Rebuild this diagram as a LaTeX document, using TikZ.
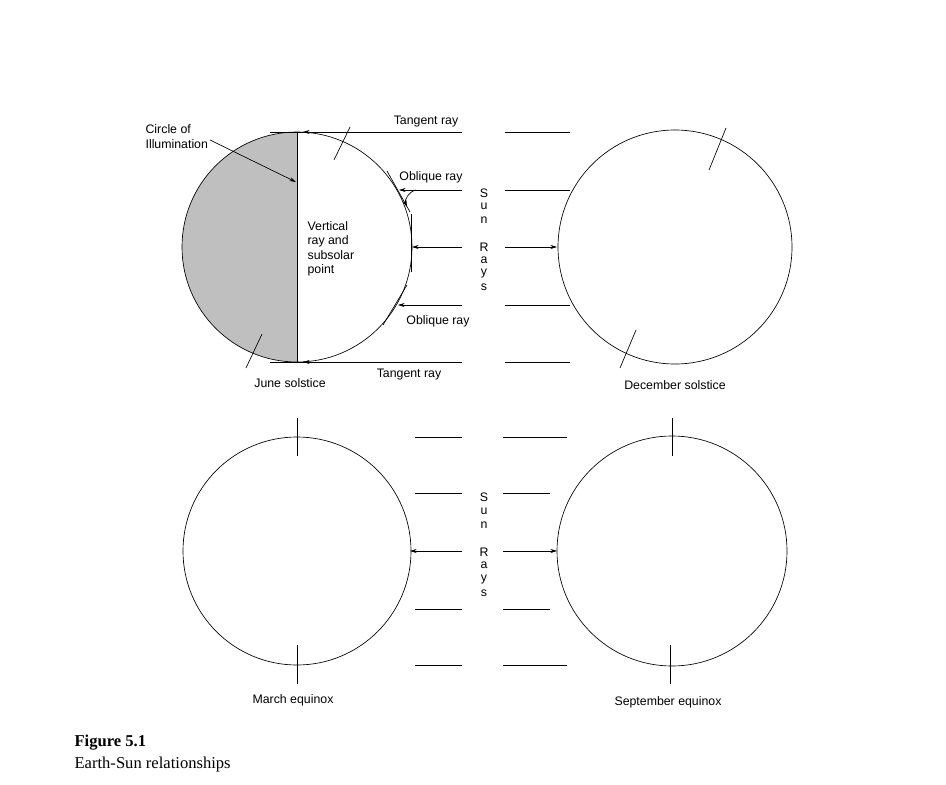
\documentclass[tikz,border=0pt]{standalone}
\usepackage{fontspec}
\setmainfont{Liberation Sans}
\newfontfamily\capfont{Liberation Serif}
\usetikzlibrary{arrows.meta}
\begin{document}
\begin{tikzpicture}[x=0.0265cm, y=-0.0265cm,
    every node/.style={inner sep=1pt, font=\fontsize{9.3}{10.8}\selectfont},
    ray/.style={line width=0.5pt},
    sunray/.style={line width=0.5pt, -{Stealth[length=5pt, width=3pt]}},
    earth/.style={line width=0.5pt},
    tick/.style={line width=0.5pt}]
  \useasboundingbox (0,0) rectangle (946,785);

  % Earth circles
  \coordinate (jun) at (297,247);
  \coordinate (dec) at (675,247);
  \coordinate (mar) at (297,551);
  \coordinate (sep) at (672,551);
  \fill[gray!50] (297,132) arc[start angle=-90, end angle=-270, radius=115] -- cycle;
  \draw[earth] (jun) circle[radius=115];
  \draw[earth] (dec) circle[radius=117];
  \draw[earth] (mar) circle[radius=114];
  \draw[earth] (sep) circle[radius=115];

  % June solstice
  \draw[tick] (297,132) -- (297,362);
  \draw[tick] (350,127) -- (334,160);
  \draw[tick] (262,334) -- (246,368);
  \coordinate (tr1) at (462,132);  \coordinate (ta1) at (303,132);
  \coordinate (or1) at (462,190);  \coordinate (oa1) at (399,190);
  \coordinate (vr1) at (462,247);  \coordinate (va1) at (412,247);
  \coordinate (or2) at (462,305);  \coordinate (oa2) at (398,305);
  \coordinate (tr2) at (462,362);  \coordinate (ta2) at (303,362);
  \draw[ray] (270,132) -- (tr1);
  \draw[ray] (270,362) -- (tr2);
  \foreach \s/\e in {tr1/ta1, or1/oa1, vr1/va1, or2/oa2, tr2/ta2}
    \draw[sunray] (\s) -- (\e);
  \draw[tick] (387,171) -- (410,212);
  \draw[tick] (411,214) -- (411,272);
  \draw[tick] (407,285) -- (383,325);
  \draw[sunray] (416,190) to[bend right=50] (407,207);
  \node[anchor=west] (circlab) at (144,138) {\begin{tabular}{@{}l@{}}Circle of\\Illumination\end{tabular}};
  \coordinate (circtip) at (296,182);
  \draw[sunray] (210,140) -- (circtip);
  \node[anchor=north west, align=left] (vert) at (306,220) {Vertical\\ray and\\subsolar\\point};
  \node (tang1) at (426,122) {Tangent ray};
  \node (obl1) at (431,177) {Oblique ray};
  \node (obl2) at (438,321) {Oblique ray};
  \node (tang2) at (409,375) {Tangent ray};
  \node (junlab) at (290,383) {June solstice};

  % Sun Rays labels
  \foreach \l [count=\i] in {S,u,n,,R,a,y,s} {
    \node (sr\i) at (484,180+13.4*\i) {\l};
    \node (sq\i) at (484,484+13.6*\i) {\l};
  }

  % December solstice
  \foreach \y in {132,190,305,362}
    \draw[ray] (505,\y) -- (570,\y);
  \coordinate (dr) at (505,247);  \coordinate (da) at (557,247);
  \draw[sunray] (dr) -- (da);
  \draw[tick] (726,128) -- (709,170);
  \draw[tick] (636,330) -- (620,368);
  \node (declab) at (675,385) {December solstice};

  % March equinox
  \foreach \y in {437,493,609,665}
    \draw[ray] (415,\y) -- (462,\y);
  \coordinate (mr) at (462,551);  \coordinate (ma) at (410,551);
  \draw[sunray] (mr) -- (ma);
  \draw[tick] (297,418) -- (297,456);
  \draw[tick] (297,645) -- (297,684);
  \node (marlab) at (293,700) {March equinox};

  % September equinox
  \foreach \y/\e in {437/567,493/550,609/550,665/567}
    \draw[ray] (503,\y) -- (\e,\y);
  \coordinate (pr) at (503,551);  \coordinate (pa) at (557,551);
  \draw[sunray] (pr) -- (pa);
  \draw[tick] (672,418) -- (672,456);
  \draw[tick] (670,645) -- (670,684);
  \node (seplab) at (668,702) {September equinox};

  % Caption
  \node[anchor=west, font=\capfont\fontsize{12.5}{14}\selectfont\bfseries] (fig) at (73,743) {Figure 5.1};
  \node[anchor=west, font=\capfont\fontsize{12.5}{14}\selectfont] (figtxt) at (73,765) {Earth-Sun relationships};
\end{tikzpicture}
\end{document}
